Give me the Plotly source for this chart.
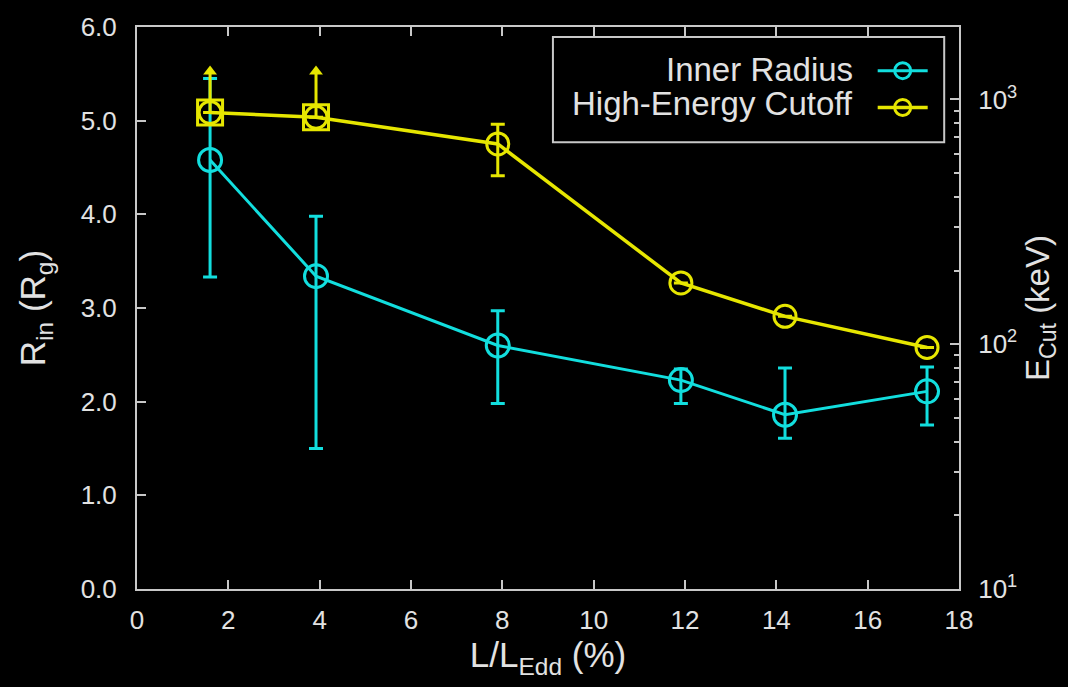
import plotly.graph_objects as go

# ---------------- data ----------------
lum = [1.6, 3.92, 7.9, 11.91, 14.19, 17.3]          # L/L_Edd (%)

rin = [4.58, 3.34, 2.60, 2.23, 1.86, 2.11]           # inner radius (Rg)
rin_up = [5.45, 3.98, 2.97, 2.35, 2.36, 2.37]
rin_lo = [3.33, 1.50, 1.98, 1.98, 1.61, 1.75]

ecut = [885, 845, 658, 178, 130, 97]                 # high-energy cutoff (keV)
ecut_up = [885, 845, 792, 178, 130, 97]
ecut_lo = [885, 845, 488, 178, 130, 97]
limit_flag = [True, True, False, False, False, False]  # lower limits
limit_arrow_top = [1300, 1300]                        # arrow tips of lower limits

xticks = [0, 2, 4, 6, 8, 10, 12, 14, 16, 18]
yticks = [0, 1, 2, 3, 4, 5, 6]
y2ticks = [10, 100, 1000]
y2ticklabels = ["10<sup>1</sup>", "10<sup>2</sup>", "10<sup>3</sup>"]
y2minor = [20, 30, 40, 50, 60, 70, 80, 90, 200, 300, 400, 500, 600, 700, 800, 900, 2000]

CYAN = "#12dede"
YELLOW = "#e6e600"
GREY = "#c8c8c8"
TXT = "#e2e2e2"
FONT = "Liberation Sans, Arial, sans-serif"

fig = go.Figure()

# inner radius
fig.add_trace(go.Scatter(
    x=lum, y=rin, mode="lines+markers", name=" ",
    line=dict(color=CYAN, width=3),
    marker=dict(symbol="circle-open", size=23, color=CYAN, line=dict(width=3, color=CYAN)),
    error_y=dict(type="data", symmetric=False,
                 array=[u - v for u, v in zip(rin_up, rin)],
                 arrayminus=[v - l for v, l in zip(rin, rin_lo)],
                 color=CYAN, thickness=3, width=7),
    yaxis="y", showlegend=True, legendrank=1,
))

# lower-limit arrows for cutoff energy
lx = [x for x, f in zip(lum, limit_flag) if f]
ly = [y for y, f in zip(ecut, limit_flag) if f]
fig.add_trace(go.Scatter(
    x=lx, y=ly, mode="markers", showlegend=False,
    marker=dict(size=1, color=YELLOW, opacity=0),
    error_y=dict(type="data", symmetric=False,
                 array=[t - y for t, y in zip(limit_arrow_top, ly)],
                 arrayminus=[0] * len(ly), color=YELLOW, thickness=3, width=0),
    yaxis="y2",
))
fig.add_trace(go.Scatter(
    x=lx, y=limit_arrow_top, mode="markers", showlegend=False,
    marker=dict(symbol="triangle-up", size=12, color=YELLOW),
    yaxis="y2",
))

# high-energy cutoff
fig.add_trace(go.Scatter(
    x=lum, y=ecut, mode="lines+markers", name=" ",
    line=dict(color=YELLOW, width=3.5),
    marker=dict(symbol="circle-open", size=22, color=YELLOW, line=dict(width=3, color=YELLOW)),
    error_y=dict(type="data", symmetric=False,
                 array=[u - v for u, v in zip(ecut_up, ecut)],
                 arrayminus=[v - l for v, l in zip(ecut, ecut_lo)],
                 color=YELLOW, thickness=3, width=7),
    yaxis="y2", showlegend=True, legendrank=2,
))
fig.add_trace(go.Scatter(
    x=lx, y=ly, mode="markers", showlegend=False,
    marker=dict(symbol="square-open", size=25, color=YELLOW, line=dict(width=3, color=YELLOW)),
    yaxis="y2",
))

axis_common = dict(
    showgrid=False, zeroline=False, showline=True, linecolor=GREY, linewidth=2,
    ticks="inside", tickcolor=GREY, tickwidth=2, ticklen=9,
    tickfont=dict(family=FONT, size=26, color=TXT),
)

fig.update_layout(
    width=1068, height=687,
    paper_bgcolor="black", plot_bgcolor="black",
    margin=dict(l=137, r=109, t=22, b=98),
    font=dict(family=FONT, color=TXT),
    xaxis=dict(range=[0, 18], tickvals=xticks, mirror="ticks",
               ticklabelstandoff=7,
               title=dict(text="L/L<sub>Edd</sub> (%)", font=dict(size=35, color=TXT), standoff=8),
               **axis_common),
    yaxis=dict(range=[0, 6], tickvals=yticks, tickformat=".1f",
               ticklabelstandoff=13,
               title=dict(text="R<sub>in</sub> (R<sub>g</sub>)", font=dict(size=35, color=TXT), standoff=24),
               **axis_common),
    yaxis2=dict(type="log", range=[1, 3.296], overlaying="y", side="right",
                tickvals=y2ticks, ticktext=y2ticklabels, ticklabelstandoff=12,
                minor=dict(tickvals=y2minor, ticks="inside", ticklen=5, tickcolor=GREY, tickwidth=2),
                title=dict(text="E<sub>Cut</sub> (keV)", font=dict(size=33, color=TXT), standoff=10),
                **axis_common),
    legend=dict(x=0.895, y=0.964, xanchor="left", yanchor="top",
                bgcolor="rgba(0,0,0,0)", borderwidth=0, itemwidth=50,
                font=dict(size=26, family=FONT, color=TXT), tracegroupgap=0),
    shapes=[dict(type="rect", xref="paper", yref="paper", x0=0.506, x1=0.982, y0=0.795, y1=0.982,
                 line=dict(color=GREY, width=2), fillcolor="rgba(0,0,0,0)")],
    annotations=[
        dict(text="Inner Radius", xref="paper", yref="paper", x=0.873, y=0.924,
             xanchor="right", yanchor="middle", showarrow=False,
             font=dict(family=FONT, size=33, color=TXT)),
        dict(text="High-Energy Cutoff", xref="paper", yref="paper", x=0.873, y=0.864,
             xanchor="right", yanchor="middle", showarrow=False,
             font=dict(family=FONT, size=33, color=TXT)),
    ],
)

fig.write_html("out.html")
